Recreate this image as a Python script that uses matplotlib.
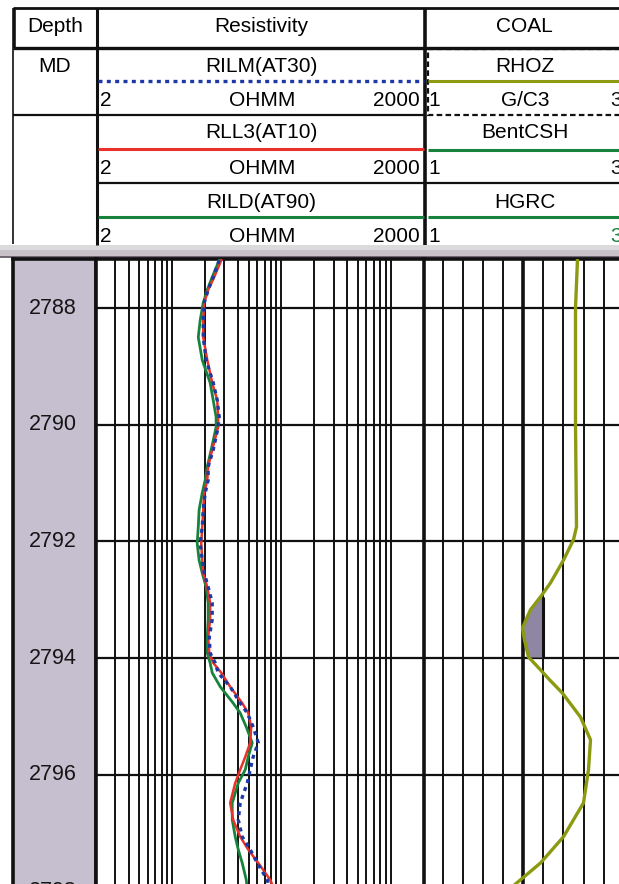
import numpy as np
import matplotlib
matplotlib.use("Agg")
import matplotlib.pyplot as plt
from matplotlib.patches import Rectangle

plt.rcParams['font.family'] = ['Liberation Sans', 'DejaVu Sans']

# ---- log data (measured depth in m) ----
res_depth = [2787.18, 2787.47, 2787.69, 2787.91, 2788.21, 2788.50, 2788.89, 2789.28,
             2789.58, 2789.87, 2790.04, 2790.43, 2790.72, 2790.95, 2791.17, 2791.46,
             2791.75, 2792.03, 2792.32, 2792.54, 2792.78, 2793.05, 2793.34, 2793.64,
             2793.91, 2794.08, 2794.25, 2794.49, 2794.77, 2794.94, 2795.18, 2795.45,
             2795.69, 2795.91, 2796.14, 2796.48, 2796.77, 2797.06, 2797.28, 2797.51,
             2797.80, 2797.97]
rilm = [26.9, 23.7, 21.3, 19.6, 19.2, 19.2, 20.4, 23.7, 25.8, 26.9, 26.3, 23.7, 21.3,
        21.3, 20.0, 19.2, 18.8, 18.0, 18.8, 19.6, 21.3, 23.2, 23.2, 21.8, 22.2, 24.7,
        26.3, 33.9, 41.9, 48.6, 55.1, 61.3, 55.1, 51.7, 48.6, 41.9, 40.2, 43.7, 51.7,
        60.0, 74.1, 79.0]
rll3 = [28.1, 24.2, 21.3, 19.6, 19.2, 19.2, 20.9, 23.2, 25.8, 26.3, 26.3, 23.2, 21.3,
        20.9, 19.6, 19.2, 18.8, 18.4, 18.8, 19.2, 20.9, 22.2, 22.2, 21.3, 21.8, 23.7,
        28.1, 33.9, 43.7, 49.6, 52.8, 51.7, 46.6, 41.9, 37.7, 33.9, 36.1, 41.9, 49.6,
        61.3, 79.0, 86.0]
rild = [26.9, 23.2, 20.9, 19.2, 18.0, 17.3, 18.8, 22.2, 23.7, 25.2, 25.2, 22.7, 20.9,
        20.0, 18.8, 17.6, 17.3, 16.9, 17.6, 18.8, 20.4, 21.3, 21.3, 20.9, 20.9, 22.2,
        23.2, 27.5, 36.1, 41.9, 47.6, 54.0, 49.6, 46.6, 40.2, 35.4, 35.4, 37.7, 40.2,
        43.7, 47.6, 48.6]

rhoz_depth = [2787.16, 2788.00, 2789.99, 2791.75, 2791.97, 2792.32, 2792.71, 2792.95,
              2793.17, 2793.48, 2793.69, 2793.98, 2794.20, 2794.37, 2794.60, 2795.01,
              2795.40, 2795.91, 2796.48, 2797.06, 2797.51, 2797.87]
rhoz = [2.54, 2.52, 2.52, 2.53, 2.50, 2.40, 2.27, 2.17, 2.07, 1.99, 2.01, 2.05, 2.17,
        2.26, 2.39, 2.57, 2.67, 2.65, 2.60, 2.40, 2.17, 1.92]

depth_labels = [2788, 2790, 2792, 2794, 2796, 2798]
coal_top, coal_base, coal_cutoff = 2792.95, 2793.98, 2.19

res_min, res_max = 2, 2000
coal_min, coal_max = 1, 3
d_top, d_bot = 2787.16, 2797.87

# ---- colours ----
C_RED = '#e8322a'
C_GREEN = '#17823c'
C_BLUE = '#1c3aa6'
C_OLIVE = '#8c9a12'
C_LAV = '#c6bfcf'
C_COAL = '#8f86a3'

W, H = 619, 884
fig = plt.figure(figsize=(W / 100, H / 100), dpi=100)


def box(x0, y0, x1, y1):
    return [x0 / W, 1 - y1 / H, (x1 - x0) / W, (y1 - y0) / H]


# ---- header panel in pixel coordinates ----
hdr = fig.add_axes([0, 0, 1, 1], zorder=0)
hdr.set_xlim(0, W)
hdr.set_ylim(H, 0)
hdr.axis('off')

K = '#111111'
fs = 15


def hline(y, x0, x1, lw=1.5, **kw):
    hdr.plot([x0, x1], [y, y], color=kw.pop('color', K), lw=lw, solid_capstyle='butt', **kw)


def vline(x, y0, y1, lw=1.5, **kw):
    hdr.plot([x, x], [y0, y1], color=kw.pop('color', K), lw=lw, solid_capstyle='butt', **kw)


hline(8, 13, W, lw=2)
hline(48, 13, W, lw=2.4)
hline(115, 13, 425, lw=1.6)
hline(183, 97, W, lw=1.6)
vline(14, 8, 48, lw=2.6)
vline(13, 48, 244, lw=1.2)
vline(97, 8, 245, lw=2.2)
vline(425, 8, 245, lw=2.6)

# dashed cell around the density header
hdr.add_patch(Rectangle((428, 49), 200, 66, fill=False, ec=K, lw=1.6,
                        ls=(0, (2.5, 1.5))))

# track titles
hdr.text(55, 27, 'Depth', ha='center', va='center', fontsize=fs)
hdr.text(261, 27, 'Resistivity', ha='center', va='center', fontsize=fs)
hdr.text(524, 27, 'COAL', ha='center', va='center', fontsize=fs)
hdr.text(55, 67, 'MD', ha='center', va='center', fontsize=fs)

# curve header rows
rows = [
    ('RILM(AT30)', 67, 81, 100, dict(color=C_BLUE, lw=2.4, ls=(0, (1.2, 1.3)))),
    ('RLL3(AT10)', 133, 149, 168, dict(color=C_RED, lw=2.2)),
    ('RILD(AT90)', 202, 217, 236, dict(color=C_GREEN, lw=2.2)),
]
for name, ty, ly, sy, style in rows:
    hdr.text(261, ty, name, ha='center', va='center', fontsize=fs)
    hdr.plot([98, 424], [ly, ly], solid_capstyle='butt', dash_capstyle='butt', **style)
    hdr.text(100, sy, '2', ha='left', va='center', fontsize=fs)
    hdr.text(262, sy, 'OHMM', ha='center', va='center', fontsize=fs)
    hdr.text(420, sy, '2000', ha='right', va='center', fontsize=fs)

coal_rows = [
    ('RHOZ', 67, 81, 100, 'G/C3', C_OLIVE, K),
    ('BentCSH', 133, 150, 168, '', C_GREEN, K),
    ('HGRC', 202, 217, 236, '', C_GREEN, C_GREEN),
]
for name, ty, ly, sy, unit, col, c3 in coal_rows:
    hdr.text(525, ty, name, ha='center', va='center', fontsize=fs)
    hdr.plot([428, W], [ly, ly], color=col, lw=2.2, solid_capstyle='butt')
    hdr.text(428, sy, '1', ha='left', va='center', fontsize=fs)
    if unit:
        hdr.text(525, sy, unit, ha='center', va='center', fontsize=fs)
    hdr.text(610, sy, '3', ha='left', va='center', fontsize=fs, color=c3)

# separator band between header and tracks
hdr.add_patch(Rectangle((0, 245), W, 12, color='#dcdadc', lw=0))
hdr.add_patch(Rectangle((0, 250), W, 6, color='#c9c2c9', lw=0))
hline(256.5, 0, W, lw=1.2, color='#5d5060')

# ---- depth track ----
y0, y1 = 259, H
axd = fig.add_axes(box(13, y0, 96, y1), zorder=2)
axd.set_facecolor(C_LAV)
axd.set_ylim(d_bot, d_top)
axd.set_xlim(0, 1)
axd.set_xticks([])
axd.set_yticks([])
for s in ['left', 'right', 'top']:
    axd.spines[s].set_linewidth(2.6)
    axd.spines[s].set_color(K)
axd.spines['bottom'].set_visible(False)
for d in depth_labels:
    axd.text(0.48, d, str(d), ha='center', va='center', fontsize=15.5,
             color='#151515', clip_on=False)

# ---- resistivity track (log) ----
axr = fig.add_axes(box(96, y0, 423.5, y1), zorder=3)
axr.set_xscale('log')
axr.set_xlim(res_min, res_max)
axr.set_ylim(d_bot, d_top)
axr.set_xticks([])
axr.set_xticks([], minor=True)
axr.set_yticks([])
axr.set_facecolor('white')
grid_vals = [m * 10 ** e for e in range(0, 4) for m in range(1, 10)]
for v in grid_vals:
    if res_min < v < res_max:
        axr.axvline(v, color=K, lw=1.4, zorder=1)
for d in depth_labels:
    axr.axhline(d, color=K, lw=1.6, zorder=1)
for s in ['left', 'right', 'top']:
    axr.spines[s].set_linewidth(2.6)
    axr.spines[s].set_color(K)
axr.spines['bottom'].set_visible(False)

axr.plot(rild, res_depth, color=C_GREEN, lw=2.0, zorder=3, drawstyle='default')
axr.plot(rll3, res_depth, color=C_RED, lw=1.8, zorder=4)
axr.plot(rilm, res_depth, color=C_BLUE, lw=2.4, ls=(0, (1.2, 1.3)),
         dash_capstyle='butt', zorder=5)

# ---- coal track (linear) ----
axc = fig.add_axes(box(423.5, y0, 623.5, y1), zorder=2)
axc.set_xlim(coal_min, coal_max)
axc.set_ylim(d_bot, d_top)
axc.set_xticks([])
axc.set_yticks([])
axc.set_facecolor('white')
for v in np.arange(1.2, 3.0, 0.2):
    thick = abs(v - 2.0) < 1e-6
    axc.axvline(v, color=K, lw=2.6 if thick else 1.4, zorder=1)
for d in depth_labels:
    axc.axhline(d, color=K, lw=1.6, zorder=1)
for s in ['left', 'right', 'bottom']:
    axc.spines[s].set_visible(False)
axc.spines['top'].set_linewidth(2.6)
axc.spines['top'].set_color(K)

rd = np.array(rhoz_depth)
rv = np.array(rhoz)
mask = (rd >= coal_top) & (rd <= coal_base)
axc.fill_betweenx(rd, rv, coal_cutoff, where=mask & (rv <= coal_cutoff + 0.01),
                  color=C_COAL, lw=0, zorder=2)
axc.vlines(coal_cutoff, coal_top, coal_base, color=K, lw=2.2, zorder=2)
axc.plot(rhoz, rhoz_depth, color=C_OLIVE, lw=2.4, zorder=4)

fig.savefig('out.png', dpi=100)
